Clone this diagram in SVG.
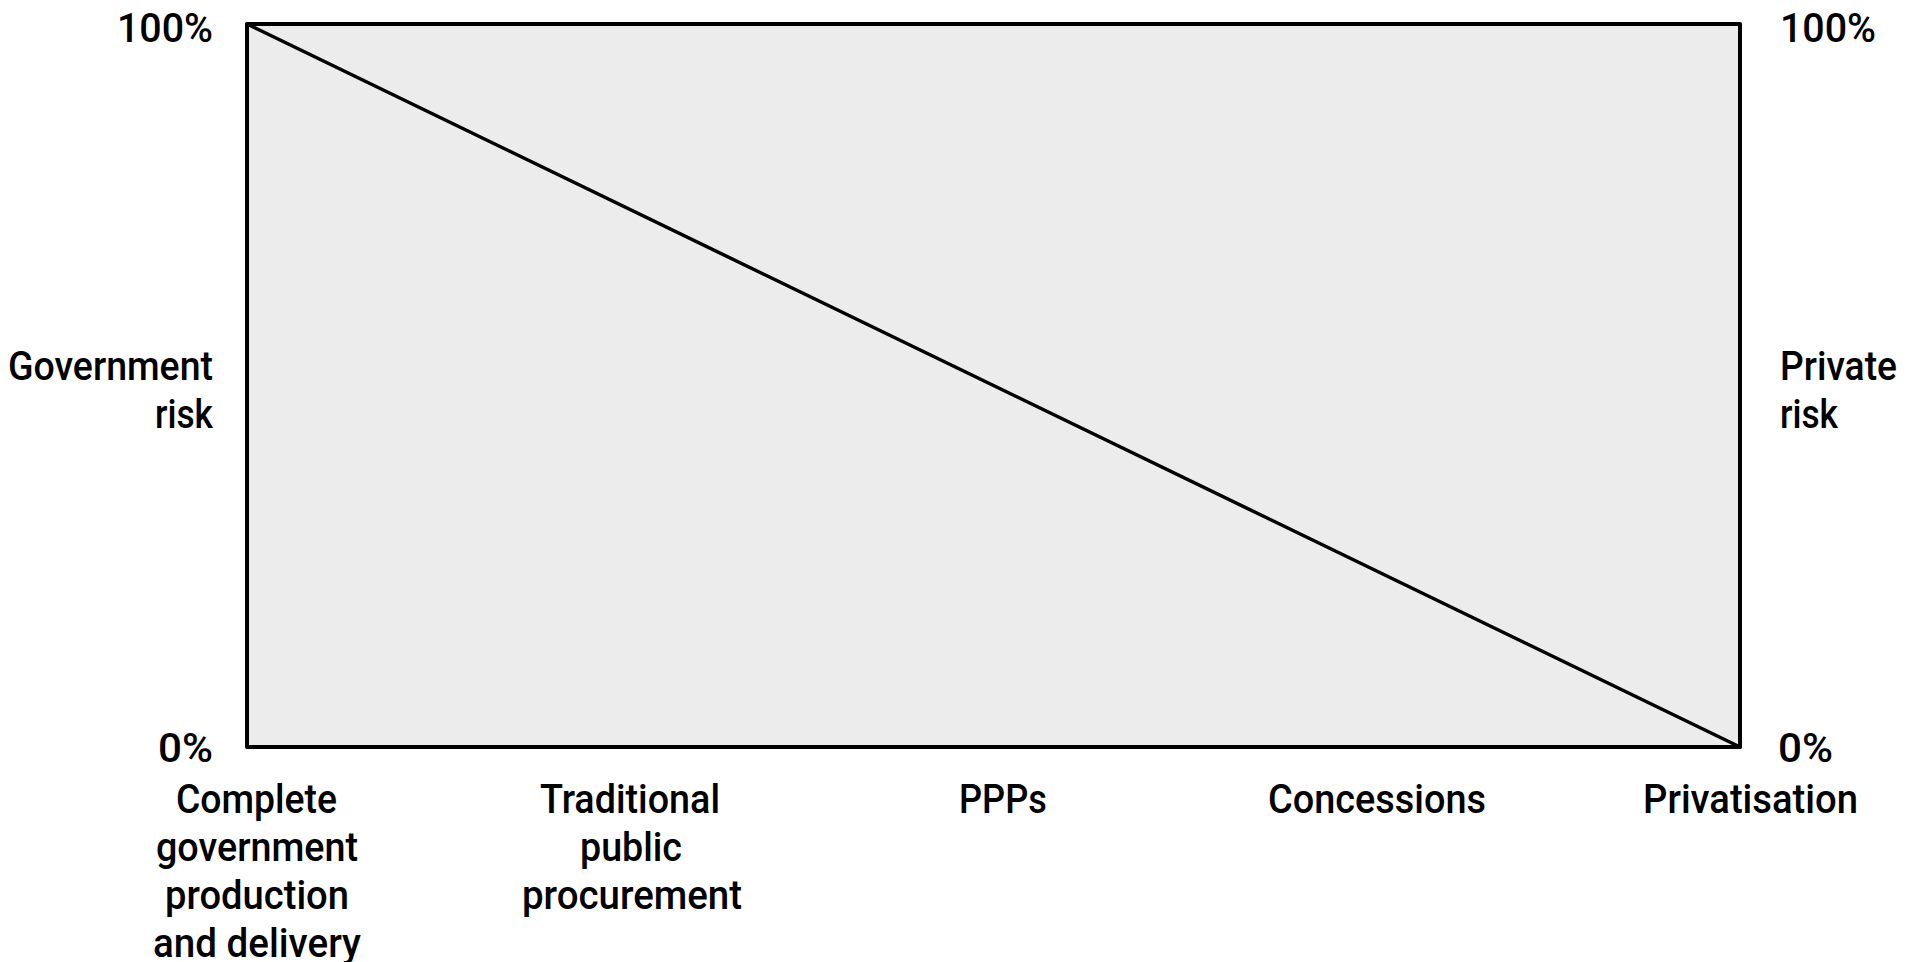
<svg xmlns="http://www.w3.org/2000/svg" width="1907" height="962" viewBox="0 0 1907 962">
<style>
.lbl{font-family:"Roboto","Liberation Sans",sans-serif;font-weight:500;font-size:40px;fill:#000}
.box{fill:#ececec;stroke:#000;stroke-width:4;stroke-linejoin:round}
.diag{stroke:#000;stroke-width:3.5;fill:none;stroke-linecap:round}
</style>
<rect width="1907" height="962" fill="#fff"/>
<g id="chart">
<rect class="box" x="247" y="24" width="1493" height="723"/>
</g>
<g id="connectors">
<line class="diag" x1="247" y1="24" x2="1740" y2="747"/>
</g>
<g id="left-axis">
<text class="lbl" x="117" y="42" textLength="96" lengthAdjust="spacingAndGlyphs">100%</text>
<text class="lbl" x="8" y="380" textLength="205" lengthAdjust="spacingAndGlyphs">Government</text>
<text class="lbl" x="155" y="428" textLength="58" lengthAdjust="spacingAndGlyphs">risk</text>
<text class="lbl" x="158" y="762" textLength="55" lengthAdjust="spacingAndGlyphs">0%</text>
</g>
<g id="right-axis">
<text class="lbl" x="1780" y="42" textLength="96" lengthAdjust="spacingAndGlyphs">100%</text>
<text class="lbl" x="1780" y="380" textLength="117" lengthAdjust="spacingAndGlyphs">Private</text>
<text class="lbl" x="1780" y="428" textLength="58" lengthAdjust="spacingAndGlyphs">risk</text>
<text class="lbl" x="1778" y="762" textLength="55" lengthAdjust="spacingAndGlyphs">0%</text>
</g>
<g id="cat-complete">
<text class="lbl" x="176" y="813" textLength="161" lengthAdjust="spacingAndGlyphs">Complete</text>
<text class="lbl" x="156" y="861" textLength="202" lengthAdjust="spacingAndGlyphs">government</text>
<text class="lbl" x="165" y="909" textLength="184" lengthAdjust="spacingAndGlyphs">production</text>
<text class="lbl" x="153" y="957" textLength="208" lengthAdjust="spacingAndGlyphs">and delivery</text>
</g>
<g id="cat-traditional">
<text class="lbl" x="540" y="813" textLength="180" lengthAdjust="spacingAndGlyphs">Traditional</text>
<text class="lbl" x="580" y="861" textLength="102" lengthAdjust="spacingAndGlyphs">public</text>
<text class="lbl" x="522" y="909" textLength="220" lengthAdjust="spacingAndGlyphs">procurement</text>
</g>
<g id="cat-ppps">
<text class="lbl" x="959" y="813" textLength="88" lengthAdjust="spacingAndGlyphs">PPPs</text>
</g>
<g id="cat-concessions">
<text class="lbl" x="1268" y="813" textLength="218" lengthAdjust="spacingAndGlyphs">Concessions</text>
</g>
<g id="cat-privatisation">
<text class="lbl" x="1643" y="813" textLength="215" lengthAdjust="spacingAndGlyphs">Privatisation</text>
</g>
</svg>
